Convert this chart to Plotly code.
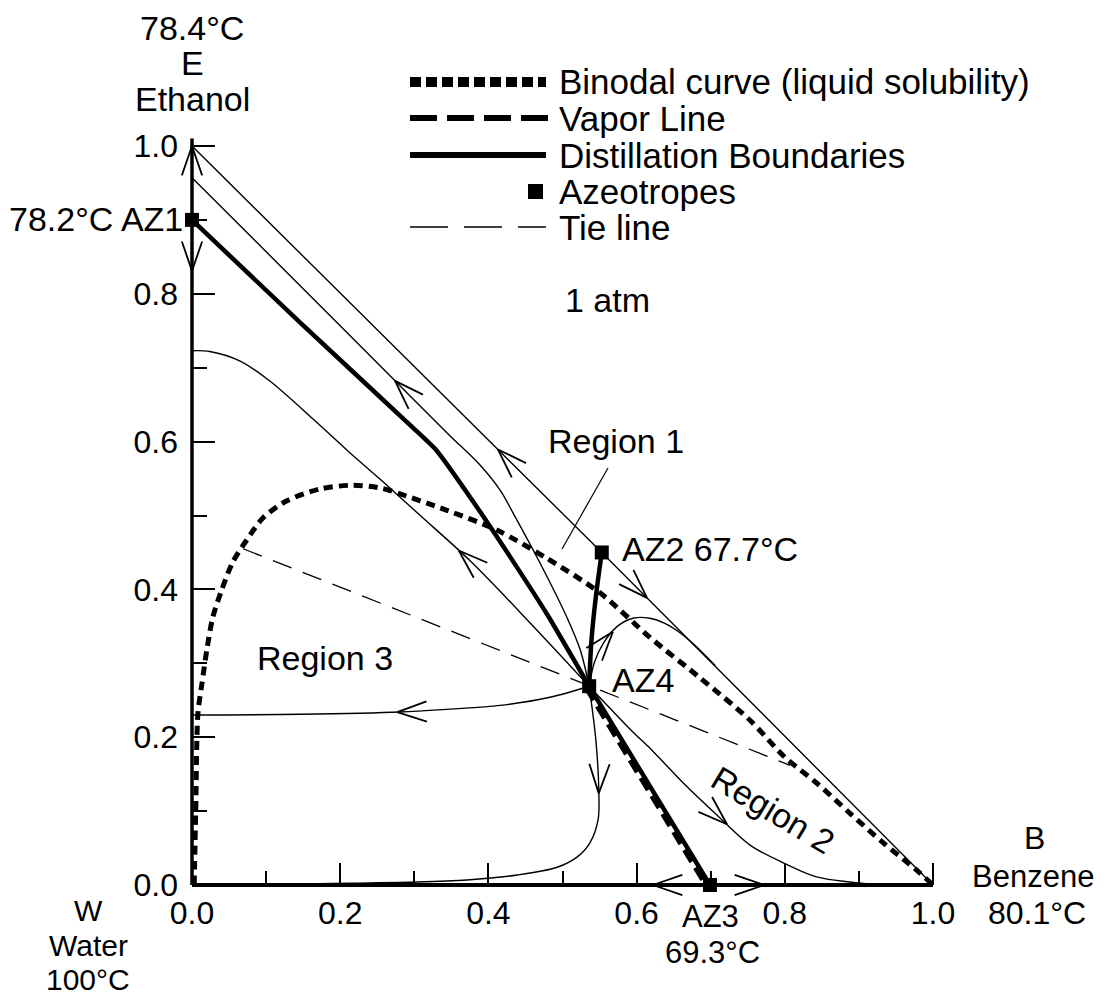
import math
import plotly.graph_objects as go

# ---------------- data (x = benzene mole fraction, y = ethanol mole fraction) ----------------
azeo_names = ["AZ1", "AZ2", "AZ3", "AZ4"]
azeo_x = [0.0, 0.553, 0.699, 0.536]
azeo_y = [0.900, 0.450, 0.0, 0.269]

# binodal curve (liquid solubility)
binodal_x = [0.003, 0.005, 0.008, 0.0135, 0.020, 0.028, 0.040, 0.055, 0.074, 0.096, 0.128, 0.173,
             0.217, 0.250, 0.263, 0.344, 0.412, 0.479, 0.551, 0.618, 0.686, 0.753, 0.800, 0.843,
             0.888, 0.933, 0.978, 1.0]
binodal_y = [0.0, 0.100, 0.232, 0.273, 0.318, 0.362, 0.399, 0.437, 0.467, 0.497, 0.520, 0.536,
             0.541, 0.538, 0.535, 0.507, 0.480, 0.442, 0.395, 0.335, 0.280, 0.223, 0.173, 0.138,
             0.097, 0.057, 0.020, 0.0]

# tie line
tie_x = [0.069, 0.807]
tie_y = [0.455, 0.162]

# triangle edges
edge_eb_x = [0.0, 0.553, 1.0]
edge_eb_y = [1.0, 0.450, 0.0]
edge_wb_x = [0.0, 1.0]
edge_wb_y = [0.0, 0.0]
edge_we_x = [0.0, 0.0]
edge_we_y = [0.0, 1.01]

# distillation boundaries
bd1_x = [0.0, 0.146, 0.298, 0.330, 0.380, 0.430, 0.480, 0.536]
bd1_y = [0.900, 0.761, 0.619, 0.588, 0.518, 0.443, 0.365, 0.269]
bd2_x = [0.536, 0.539, 0.545, 0.553]
bd2_y = [0.269, 0.330, 0.390, 0.450]
bd3_x = [0.536, 0.699]
bd3_y = [0.269, 0.0]

# vapor line
vap_x = [0.532, 0.612, 0.693]
vap_y = [0.266, 0.133, 0.0]

# residue curves
rc_top_x = [0.0, 0.146, 0.287, 0.348, 0.389, 0.416, 0.433, 0.470, 0.506, 0.524, 0.536]
rc_top_y = [0.957, 0.811, 0.669, 0.608, 0.568, 0.534, 0.504, 0.435, 0.362, 0.318, 0.269]
rc_mid_x = [0.0, 0.024, 0.065, 0.105, 0.163, 0.213, 0.254, 0.308, 0.375, 0.456, 0.536]
rc_mid_y = [0.723, 0.722, 0.709, 0.682, 0.631, 0.585, 0.549, 0.500, 0.439, 0.355, 0.269]
rc_left_x = [0.536, 0.483, 0.416, 0.348, 0.281, 0.146, 0.0]
rc_left_y = [0.269, 0.254, 0.243, 0.238, 0.234, 0.231, 0.230]
rc_down_x = [0.536, 0.545, 0.549, 0.548, 0.537, 0.520, 0.493, 0.439, 0.371, 0.304, 0.213, 0.150]
rc_down_y = [0.269, 0.196, 0.128, 0.088, 0.057, 0.038, 0.024, 0.0135, 0.0068, 0.004, 0.0025, 0.0015]
rc_r2_x = [0.536, 0.595, 0.618, 0.641, 0.663, 0.708, 0.753, 0.798, 0.843, 0.888, 0.915]
rc_r2_y = [0.269, 0.207, 0.185, 0.161, 0.138, 0.095, 0.054, 0.030, 0.011, 0.004, 0.001]
rc_loop_x = [0.536, 0.543, 0.555, 0.574, 0.595, 0.618, 0.638, 0.659, 0.679, 0.706]
rc_loop_y = [0.269, 0.301, 0.327, 0.350, 0.361, 0.361, 0.354, 0.341, 0.324, 0.297]

# arrows: (curve, axis used to locate, value, direction along curve index)
arrow_specs = [
    ("we", "y", 1.000, +1), ("we", "y", 0.831, -1),
    ("wb", "x", 0.622, -1), ("wb", "x", 0.772, +1),
    ("eb", "x", 0.413, -1), ("eb", "x", 0.614, +1),
    ("top", "x", 0.274, -1), ("mid", "x", 0.360, -1),
    ("left", "x", 0.277, +1), ("down", "y", 0.124, +1),
    ("r2", "x", 0.722, +1), ("loop", "x", 0.568, +1),
]

tick_major = [0.0, 0.2, 0.4, 0.6, 0.8, 1.0]
tick_minor = [0.1, 0.3, 0.5, 0.7, 0.9]

# ---------------- layout calibration ----------------
OFF = 8                      # page body margin of the html page
FIG_W, FIG_H = 1105 - OFF, 996 - OFF
X0PX, X1PX = 192 - OFF, 933 - OFF
Y0PX, Y1PX = 885 - OFF, 146 - OFF
SX = X1PX - X0PX
SY = Y0PX - Y1PX
x_range = [-X0PX / SX, (FIG_W - X0PX) / SX]
y_range = [-(FIG_H - Y0PX) / SY, Y0PX / SY]


def px(p):
    return (p - OFF) / FIG_W


def py(p):
    return 1 - (p - OFF) / FIG_H


FONT = "Liberation Sans, Arial, sans-serif"
fig = go.Figure()


def add_line(xs, ys, width, dash=None, shape="spline", smoothing=0.9):
    fig.add_trace(go.Scatter(
        x=xs, y=ys, mode="lines", hoverinfo="skip", showlegend=False,
        line=dict(color="black", width=width, dash=dash, shape=shape, smoothing=smoothing)))


curves = {
    "we": (edge_we_x, edge_we_y), "wb": (edge_wb_x, edge_wb_y), "eb": (edge_eb_x, edge_eb_y),
    "top": (rc_top_x, rc_top_y), "mid": (rc_mid_x, rc_mid_y), "left": (rc_left_x, rc_left_y),
    "down": (rc_down_x, rc_down_y), "r2": (rc_r2_x, rc_r2_y), "loop": (rc_loop_x, rc_loop_y),
}

# thin residue curves
for key in ["top", "mid", "left", "down", "r2", "loop"]:
    add_line(*curves[key], width=1.4)
add_line(edge_eb_x, edge_eb_y, 1.4, shape="linear")

# tie line
add_line(tie_x, tie_y, 1.3, dash="20px,12px", shape="linear")

# binodal
add_line(binodal_x, binodal_y, 5, dash="9px,6px", smoothing=0.8)

# vapor line
add_line(vap_x, vap_y, 4.5, dash="14px,7px", shape="linear")

# distillation boundaries
add_line(bd1_x, bd1_y, 4.5, smoothing=0.5)
add_line(bd2_x, bd2_y, 4.5)
add_line(bd3_x, bd3_y, 4.5, shape="linear")

# axes edges
add_line(edge_wb_x, edge_wb_y, 4, shape="linear")
add_line(edge_we_x, edge_we_y, 3.5, shape="linear")

# chevron arrows computed from curves
ARM = 0.042
HALF = math.radians(19)
ax_, ay_ = [], []
for key, axis, val, d in arrow_specs:
    xs, ys = curves[key]
    coord = xs if axis == "x" else ys
    for i in range(len(xs) - 1):
        a, b = coord[i], coord[i + 1]
        if (a - val) * (b - val) <= 0 and a != b:
            t = (val - a) / (b - a)
            tx = xs[i] + t * (xs[i + 1] - xs[i])
            ty = ys[i] + t * (ys[i + 1] - ys[i])
            dx, dy = xs[i + 1] - xs[i], ys[i + 1] - ys[i]
            n = math.hypot(dx, dy)
            dx, dy = d * dx / n, d * dy / n
            for s in (1, -1):
                c, sn = math.cos(s * HALF), math.sin(s * HALF)
                rx, ry = dx * c - dy * sn, dx * sn + dy * c
                ax_ += [tx - ARM * rx, tx, None]
                ay_ += [ty - ARM * ry, ty, None]
            break
fig.add_trace(go.Scatter(x=ax_, y=ay_, mode="lines", hoverinfo="skip", showlegend=False,
                         line=dict(color="black", width=1.8)))

# azeotropes
fig.add_trace(go.Scatter(x=azeo_x, y=azeo_y, mode="markers", hoverinfo="skip", showlegend=False,
                         cliponaxis=False,
                         marker=dict(symbol="square", size=14, color="black")))

# ---------------- legend (drawn) ----------------
shapes = []
rows = [82, 118, 155, 191, 227]
legend_labels = ["Binodal curve (liquid solubility)", "Vapor Line", "Distillation Boundaries",
                 "Azeotropes", "Tie line"]
shapes.append(dict(type="line", xref="paper", yref="paper", x0=px(410), x1=px(546),
                   y0=py(rows[0]), y1=py(rows[0]), line=dict(color="black", width=10, dash="11px,5px")))
shapes.append(dict(type="line", xref="paper", yref="paper", x0=px(410), x1=px(548),
                   y0=py(rows[1]), y1=py(rows[1]), line=dict(color="black", width=6, dash="27px,10px")))
shapes.append(dict(type="line", xref="paper", yref="paper", x0=px(410), x1=px(546),
                   y0=py(rows[2]), y1=py(rows[2]), line=dict(color="black", width=6)))
shapes.append(dict(type="rect", xref="paper", yref="paper", x0=px(528), x1=px(543),
                   y0=py(rows[3] + 8), y1=py(rows[3] - 7), fillcolor="black", line=dict(width=0)))
shapes.append(dict(type="line", xref="paper", yref="paper", x0=px(410), x1=px(546),
                   y0=py(rows[4]), y1=py(rows[4]), line=dict(color="black", width=1.3, dash="38px,16px")))
# Region 1 leader
shapes.append(dict(type="line", xref="paper", yref="paper", x0=px(608), x1=px(562),
                   y0=py(468), y1=py(549), line=dict(color="black", width=1.2)))

annotations = []


def ann(text, x, y, xa="center", size=34, angle=0):
    annotations.append(dict(text=text, x=px(x), y=py(y), xref="paper", yref="paper",
                            xanchor=xa, yanchor="middle", showarrow=False, textangle=angle,
                            borderpad=0,
                            font=dict(family=FONT, size=size, color="black")))


for lab, r in zip(legend_labels, rows):
    ann(lab, 558, r, xa="left", size=35)

ann("78.4°C", 192, 28)
ann("E", 192, 63)
ann("Ethanol", 192, 99)
ann("78.2°C AZ1", 184, 219, xa="right")
ann("1 atm", 607, 300)
ann("Region 1", 616, 441)
ann("AZ2 67.7°C", 621, 549, xa="left")
ann("Region 3", 325, 658)
ann("AZ4", 611, 680, xa="left")
ann("Region 2", 773, 810, angle=31)
ann("B", 1034, 838, size=32)
ann("Benzene", 1033, 876, size=31)
ann("80.1°C", 1037, 913, size=32)
ann("W", 88, 910, size=30)
ann("Water", 88, 945, size=30)
ann("100°C", 88, 979, size=30)
ann("AZ3", 710, 916, size=31)
ann("69.3°C", 713, 952, size=31)

axis_common = dict(
    showgrid=False, zeroline=False, showline=False, automargin=False,
    ticks="inside", ticklen=22, tickwidth=1.5, tickcolor="black",
    tickvals=tick_major, tickformat=".1f",
    tickfont=dict(family=FONT, size=32, color="black"),
    minor=dict(tickvals=tick_minor, ticks="inside", ticklen=14, tickwidth=1.5, tickcolor="black"),
    anchor="free",
)

fig.update_layout(
    width=FIG_W, height=FIG_H,
    margin=dict(l=0, r=0, t=0, b=0, pad=0),
    template="none",
    paper_bgcolor="white", plot_bgcolor="white",
    showlegend=False,
    xaxis=dict(range=x_range, position=1 - Y0PX / FIG_H, ticklabelstandoff=6, **axis_common),
    yaxis=dict(range=y_range, position=X0PX / FIG_W, ticklabelstandoff=14, **axis_common),
    shapes=shapes,
    annotations=annotations,
)

fig.write_html("out.html")
